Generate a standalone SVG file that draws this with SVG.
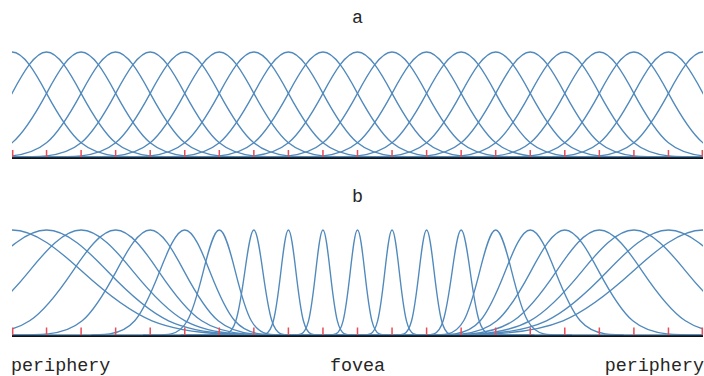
<svg xmlns="http://www.w3.org/2000/svg" xmlns:xlink="http://www.w3.org/1999/xlink" width="704" height="376" viewBox="0 0 704 376">
<style>
.curve{fill:none;stroke:#5089bc;stroke-width:1.35;vector-effect:non-scaling-stroke}
.tick{fill:none;stroke:#ec4b57;stroke-width:1.5}
.axis{fill:none;stroke:#111;stroke-width:1.8}
.lbl{font-family:"Liberation Mono","Courier New",monospace;font-size:18.4px;fill:#262626}
</style>
<defs>
<path id="g" class="curve" d="M -8 0 L -4 0 C -3.667 0 -3.333 0 -3 -1.166 C -2.667 -2.331 -2.333 -4.736 -2 -14.207 C -1.667 -23.678 -1.333 -42.452 -1 -63.683 C -0.667 -84.914 -0.333 -105 0 -105 C 0.333 -105 0.667 -84.914 1 -63.683 C 1.333 -42.452 1.667 -23.678 2 -14.207 C 2.333 -4.736 2.667 -2.331 3 -1.166 C 3.333 0 3.667 0 4 0 L 8 0"/>
<clipPath id="clipA" clipPathUnits="userSpaceOnUse"><rect x="12" y="0" width="691" height="180"/></clipPath>
<clipPath id="clipB" clipPathUnits="userSpaceOnUse"><rect x="12" y="180" width="691" height="180"/></clipPath>
</defs>
<rect width="704" height="376" fill="#fff"/>

<g id="panel-a">
<text id="label-a" class="lbl" x="357.5" y="23" text-anchor="middle">a</text>
<g id="curves-a" clip-path="url(#clipA)">
<use xlink:href="#g" transform="translate(12,157) scale(34.55,1)"/>
<use xlink:href="#g" transform="translate(46.55,157) scale(34.55,1)"/>
<use xlink:href="#g" transform="translate(81.1,157) scale(34.55,1)"/>
<use xlink:href="#g" transform="translate(115.65,157) scale(34.55,1)"/>
<use xlink:href="#g" transform="translate(150.2,157) scale(34.55,1)"/>
<use xlink:href="#g" transform="translate(184.75,157) scale(34.55,1)"/>
<use xlink:href="#g" transform="translate(219.3,157) scale(34.55,1)"/>
<use xlink:href="#g" transform="translate(253.85,157) scale(34.55,1)"/>
<use xlink:href="#g" transform="translate(288.4,157) scale(34.55,1)"/>
<use xlink:href="#g" transform="translate(322.95,157) scale(34.55,1)"/>
<use xlink:href="#g" transform="translate(357.5,157) scale(34.55,1)"/>
<use xlink:href="#g" transform="translate(392.05,157) scale(34.55,1)"/>
<use xlink:href="#g" transform="translate(426.6,157) scale(34.55,1)"/>
<use xlink:href="#g" transform="translate(461.15,157) scale(34.55,1)"/>
<use xlink:href="#g" transform="translate(495.7,157) scale(34.55,1)"/>
<use xlink:href="#g" transform="translate(530.25,157) scale(34.55,1)"/>
<use xlink:href="#g" transform="translate(564.8,157) scale(34.55,1)"/>
<use xlink:href="#g" transform="translate(599.35,157) scale(34.55,1)"/>
<use xlink:href="#g" transform="translate(633.9,157) scale(34.55,1)"/>
<use xlink:href="#g" transform="translate(668.45,157) scale(34.55,1)"/>
<use xlink:href="#g" transform="translate(703,157) scale(34.55,1)"/>
</g>
<path id="ticks-a" class="tick" d="M12.7 150V157M46.55 150V157M81.1 150V157M115.65 150V157M150.2 150V157M184.75 150V157M219.3 150V157M253.85 150V157M288.4 150V157M322.95 150V157M357.5 150V157M392.05 150V157M426.6 150V157M461.15 150V157M495.7 150V157M530.25 150V157M564.8 150V157M599.35 150V157M633.9 150V157M668.45 150V157M702.3 150V157"/>
<path id="axis-a" class="axis" d="M12 158.2H703"/>
</g>

<g id="panel-b">
<text id="label-b" class="lbl" x="357.5" y="201.5" text-anchor="middle">b</text>
<g id="curves-b" clip-path="url(#clipB)">
<use xlink:href="#g" transform="translate(12,335) scale(70,1)"/>
<use xlink:href="#g" transform="translate(46.55,335) scale(61,1)"/>
<use xlink:href="#g" transform="translate(81.1,335) scale(52,1)"/>
<use xlink:href="#g" transform="translate(115.65,335) scale(43,1)"/>
<use xlink:href="#g" transform="translate(150.2,335) scale(34,1)"/>
<use xlink:href="#g" transform="translate(184.75,335) scale(25,1)"/>
<use xlink:href="#g" transform="translate(219.3,335) scale(16,1)"/>
<use xlink:href="#g" transform="translate(253.85,335) scale(9,1)"/>
<use xlink:href="#g" transform="translate(288.4,335) scale(7.5,1)"/>
<use xlink:href="#g" transform="translate(322.95,335) scale(7.2,1)"/>
<use xlink:href="#g" transform="translate(357.5,335) scale(7.2,1)"/>
<use xlink:href="#g" transform="translate(392.05,335) scale(7.2,1)"/>
<use xlink:href="#g" transform="translate(426.6,335) scale(7.5,1)"/>
<use xlink:href="#g" transform="translate(461.15,335) scale(9,1)"/>
<use xlink:href="#g" transform="translate(495.7,335) scale(16,1)"/>
<use xlink:href="#g" transform="translate(530.25,335) scale(25,1)"/>
<use xlink:href="#g" transform="translate(564.8,335) scale(34,1)"/>
<use xlink:href="#g" transform="translate(599.35,335) scale(43,1)"/>
<use xlink:href="#g" transform="translate(633.9,335) scale(52,1)"/>
<use xlink:href="#g" transform="translate(668.45,335) scale(61,1)"/>
<use xlink:href="#g" transform="translate(703,335) scale(70,1)"/>
</g>
<path id="ticks-b" class="tick" d="M12.7 327.5V335M46.55 327.5V335M81.1 327.5V335M115.65 327.5V335M150.2 327.5V335M184.75 327.5V335M219.3 327.5V335M253.85 327.5V335M288.4 327.5V335M322.95 327.5V335M357.5 327.5V335M392.05 327.5V335M426.6 327.5V335M461.15 327.5V335M495.7 327.5V335M530.25 327.5V335M564.8 327.5V335M599.35 327.5V335M633.9 327.5V335M668.45 327.5V335M702.3 327.5V335"/>
<path id="axis-b" class="axis" d="M12 336.2H703"/>
</g>

<text id="label-periphery-left" class="lbl" x="11" y="371">periphery</text>
<text id="label-fovea" class="lbl" x="357.5" y="371" text-anchor="middle">fovea</text>
<text id="label-periphery-right" class="lbl" x="704" y="371" text-anchor="end">periphery</text>
</svg>
